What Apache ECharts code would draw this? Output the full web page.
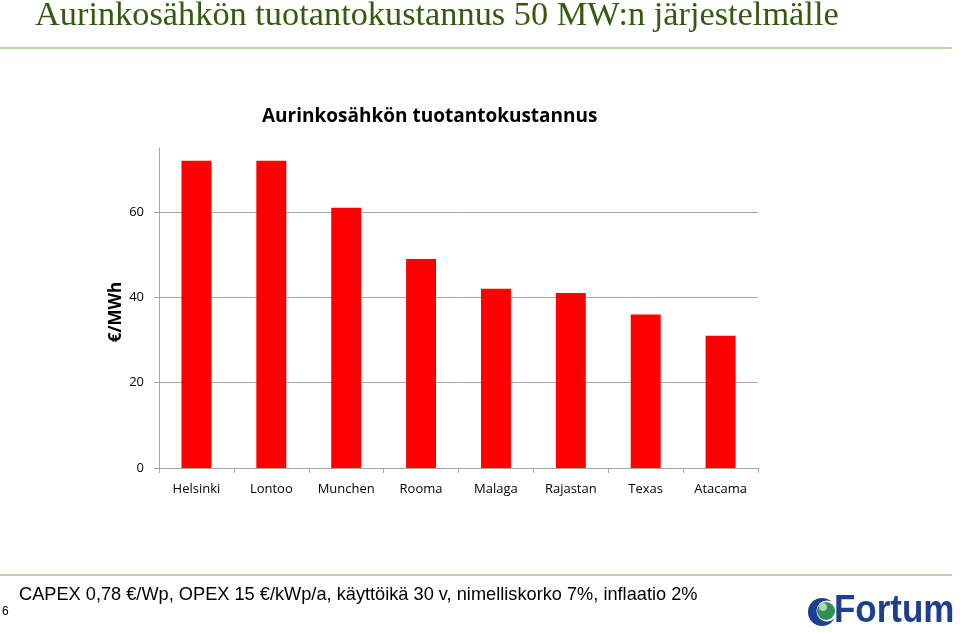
<!DOCTYPE html>
<html>
<head>
<meta charset="utf-8">
<script src="https://cdn.jsdelivr.net/npm/echarts@6/dist/echarts.min.js"></script>
<style>
html,body{margin:0;padding:0;background:#fff;}
#chart{width:960px;height:633px;}
</style>
</head>
<body>
<div id="chart"></div>
<script>
const categories = ['Helsinki', 'Lontoo', 'Munchen', 'Rooma', 'Malaga', 'Rajastan', 'Texas', 'Atacama'];
const costValues = [72, 72, 61, 49, 42, 41, 36, 31];
const yTicks = { min: 0, max: 75, interval: 20 };

const pageTitle = 'Aurinkosähkön tuotantokustannus 50 MW:n järjestelmälle';
const chartTitle = 'Aurinkosähkön tuotantokustannus';
const axisName = '€/MWh';
const footnote = 'CAPEX 0,78 €/Wp, OPEX 15 €/kWp/a, käyttöikä 30 v, nimelliskorko 7%, inflaatio 2%';

const chart = echarts.init(document.getElementById('chart'));
const axisGrey = '#a6a6a6';
const bodyFont = '"Open Sans", Lato, sans-serif';

chart.setOption({
  backgroundColor: '#fff',
  animation: false,
  grid: { left: 159, right: 202, top: 148, bottom: 165 },
  xAxis: {
    type: 'category',
    data: categories,
    axisLine: { lineStyle: { color: axisGrey, width: 1 } },
    axisTick: { show: true, length: 5, lineStyle: { color: axisGrey } },
    axisLabel: { margin: 15, fontFamily: bodyFont, fontSize: 13, color: '#000' }
  },
  yAxis: {
    type: 'value',
    min: yTicks.min,
    max: yTicks.max,
    interval: yTicks.interval,
    name: axisName,
    nameLocation: 'middle',
    nameGap: 34,
    nameMoveOverlap: false,
    nameTextStyle: { fontFamily: bodyFont, fontSize: 17, fontWeight: 'bold', color: '#000', padding: [0, 8, 0, 0] },
    axisLine: { show: true, lineStyle: { color: axisGrey, width: 1 } },
    axisTick: { show: true, length: 5, lineStyle: { color: axisGrey } },
    axisLabel: { margin: 15, fontFamily: bodyFont, fontSize: 13, color: '#000', showMaxLabel: false },
    splitLine: { show: true, showMaxLine: false, lineStyle: { color: axisGrey, width: 1 } }
  },
  series: [{
    type: 'bar',
    data: costValues,
    barWidth: '40%',
    itemStyle: { color: '#ff0000' }
  }],
  graphic: [
    {
      type: 'text', x: 35, y: 16, scaleX: 1.01,
      style: { text: pageTitle, font: '34px "Liberation Serif", serif', fill: '#35590f', verticalAlign: 'middle', align: 'left' }
    },
    {
      type: 'text', x: 262, y: 117,
      style: { text: chartTitle, font: 'bold 19px "Open Sans", Lato, sans-serif', fill: '#000', verticalAlign: 'middle', align: 'left' }
    },
    {
      type: 'line', shape: { x1: 0, y1: 48, x2: 952, y2: 48 },
      style: { stroke: '#a9c684', lineWidth: 1.5 }
    },
    {
      type: 'line', shape: { x1: 0, y1: 575, x2: 952, y2: 575 },
      style: { stroke: '#a9c684', lineWidth: 1.5 }
    },
    {
      type: 'text', x: 19, y: 595, scaleX: 0.958,
      style: { text: footnote, font: '19px "Liberation Sans", Arial, sans-serif', fill: '#000', verticalAlign: 'middle', align: 'left' }
    },
    {
      type: 'text', x: 2, y: 612,
      style: { text: '6', font: '12px "Liberation Sans", Arial, sans-serif', fill: '#000', verticalAlign: 'middle', align: 'left' }
    },
    { type: 'circle', shape: { cx: 822, cy: 612, r: 14 }, style: { fill: '#1d3f8e' } },
    { type: 'circle', shape: { cx: 827, cy: 611, r: 10.5 }, style: { fill: '#fff' } },
    { type: 'circle', shape: { cx: 826, cy: 611, r: 9 }, style: { fill: '#2f8f52' } },
    { type: 'circle', shape: { cx: 823, cy: 607, r: 4 }, style: { fill: '#a8d8b0' } },
    {
      type: 'text', x: 834, y: 612, scaleX: 0.92,
      style: { text: 'Fortum', font: 'bold 38px "Liberation Sans", Arial, sans-serif', fill: '#1d3f8e', verticalAlign: 'middle', align: 'left' }
    }
  ]
});
</script>
</body>
</html>
